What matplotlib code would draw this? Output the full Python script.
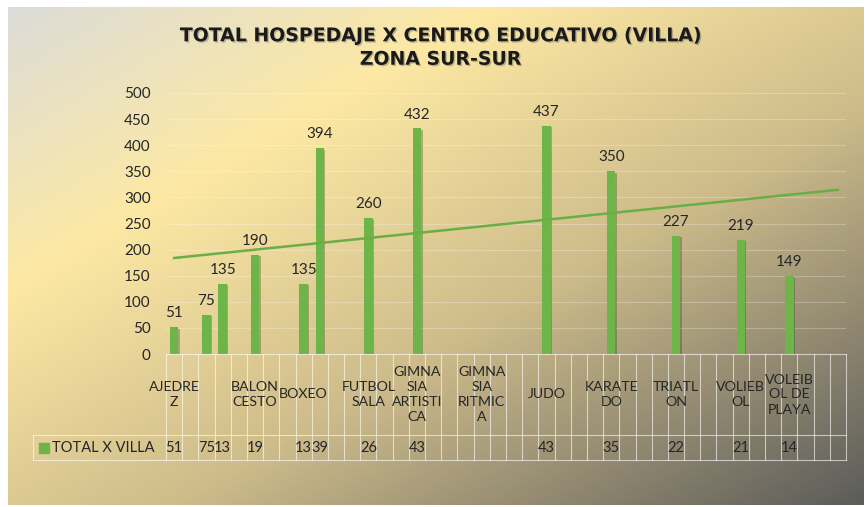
import numpy as np
import matplotlib
matplotlib.use("Agg")
import matplotlib.pyplot as plt
from matplotlib.colors import LinearSegmentedColormap
from matplotlib.lines import Line2D
from matplotlib import transforms
import matplotlib.patheffects as pe

# ---------------- data ----------------
title = "TOTAL HOSPEDAJE X CENTRO EDUCATIVO (VILLA)\nZONA SUR-SUR"
series_name = "TOTAL X VILLA"
categories = ["AJEDRE\nZ", "", "", "", "", "BALON\nCESTO", "", "", "BOXEO", "", "",
              "", "FUTBOL\nSALA", "", "", "GIMNA\nSIA\nARTISTI\nCA", "", "", "",
              "GIMNA\nSIA\nRITMIC\nA", "", "", "", "JUDO", "", "", "", "KARATE\nDO",
              "", "", "", "TRIATL\nON", "", "", "", "VOLIEB\nOL", "", "",
              "VOLEIB\nOL DE\nPLAYA", "", "", ""]
values = [51, None, 75, 135, None, 190, None, None, 135, 394, None, None, 260,
          None, None, 432, None, None, None, None, None, None, None, 437, None,
          None, None, 350, None, None, None, 227, None, None, None, 219, None,
          None, 149, None, None, None]
yticks = [0, 50, 100, 150, 200, 250, 300, 350, 400, 450, 500]

W, H = 864, 507
plt.rcParams['font.family'] = ['Lato', 'DejaVu Sans']

fig = plt.figure(figsize=(W / 100, H / 100), dpi=100)
fig.patch.set_facecolor("white")

def fy(py):
    return 1 - py / H

def fx(px):
    return px / W

# ---------------- background gradient ----------------
bg = fig.add_axes([fx(8), fy(505), fx(856), (505 - 7) / H], zorder=-10)
gx = np.linspace(0, 1, 400)
gy = np.linspace(0, 1, 240)
U, V = np.meshgrid(gx, gy)
T = (U + V) / 2
cmap = LinearSegmentedColormap.from_list(
    "bg", [(0.0, "#dcdcd8"), (0.28, "#fde9a4"), (0.6, "#cdbb8a"), (1.0, "#5c5c5a")])
bg.imshow(T, cmap=cmap, aspect="auto", extent=[0, 1, 1, 0], vmin=0, vmax=1,
          interpolation="bilinear")
bg.set_axis_off()

# ---------------- main axes ----------------
n = len(categories)
x = np.arange(n)
ax = fig.add_axes([fx(166), fy(354), fx(846 - 166), (354 - 93) / H])
ax.set_facecolor("none")
ax.set_xlim(-0.5, n - 0.5)
ax.set_ylim(0, 500)
ax.set_yticks(yticks)
for s in ax.spines.values():
    s.set_visible(False)
ax.tick_params(axis="y", length=0, pad=11, labelsize=11, labelcolor="#262626")
ax.tick_params(axis="x", length=0, labelbottom=False)
ax.grid(axis="y", color="white", alpha=0.25, lw=0.8)
ax.set_axisbelow(True)

vals = np.array([np.nan if v is None else v for v in values], dtype=float)
mask = ~np.isnan(vals)
bars = ax.bar(x[mask], vals[mask], width=0.52, color="#6db548", zorder=3,
              path_effects=[pe.SimplePatchShadow(offset=(1.0, -1.0), alpha=0.3),
                            pe.Normal()])
ax.bar_label(bars, labels=[str(int(v)) for v in vals[mask]], padding=5,
             fontsize=11, color="#262626")

# trendline (linear fit on the data)
coef = np.polyfit(x[mask], vals[mask], 1)
ax.plot(x, np.polyval(coef, x), color="#6aae45", lw=1.8, zorder=4)

# ---------------- data table ----------------
bt = transforms.blended_transform_factory(ax.transData, fig.transFigure)
lc = (1, 1, 1, 0.6)
row1_top, row1_bot, row2_bot = 354, 435, 460
for b in np.arange(n + 1) - 0.5:
    fig.add_artist(Line2D([b, b], [fy(row1_top), fy(row2_bot)], transform=bt,
                          color=lc, lw=0.8))
for py in (row1_top, row1_bot, row2_bot):
    fig.add_artist(Line2D([-0.5, n - 0.5], [fy(py), fy(py)], transform=bt,
                          color=lc, lw=0.8))
# legend cell
fig.add_artist(Line2D([fx(33), fx(166)], [fy(row1_bot), fy(row1_bot)], color=lc, lw=0.8))
fig.add_artist(Line2D([fx(33), fx(166)], [fy(row2_bot), fy(row2_bot)], color=lc, lw=0.8))
fig.add_artist(Line2D([fx(33), fx(33)], [fy(row1_bot), fy(row2_bot)], color=lc, lw=0.8))

for i, lab in enumerate(categories):
    if lab:
        fig.text(i, fy((row1_top + row1_bot) / 2), lab, transform=bt,
                 ha="center", va="center", fontsize=10.2, color="#262626",
                 linespacing=1.3, multialignment="center")
    if mask[i]:
        fig.text(i, fy((row1_bot + row2_bot) / 2), str(int(vals[i]))[:2],
                 transform=bt, ha="center", va="center", fontsize=10.5,
                 color="#262626")

fig.add_artist(Line2D([fx(44)], [fy(447.5)], marker="s", markersize=7,
                      color="#6db548", linestyle="none"))
fig.text(fx(52), fy(447.5), series_name, ha="left", va="center", fontsize=10.5,
         color="#262626")

# ---------------- title ----------------
fig.text(0.51, fy(47.5), title, ha="center", va="center", fontsize=13.6,
         fontweight="bold", color="#1a1a1a", linespacing=1.3,
         family=["DejaVu Sans"],
         path_effects=[pe.withSimplePatchShadow(offset=(1, -1), alpha=0.35,
                                                shadow_rgbFace="#555555")])

fig.savefig("out.png", dpi=100)
